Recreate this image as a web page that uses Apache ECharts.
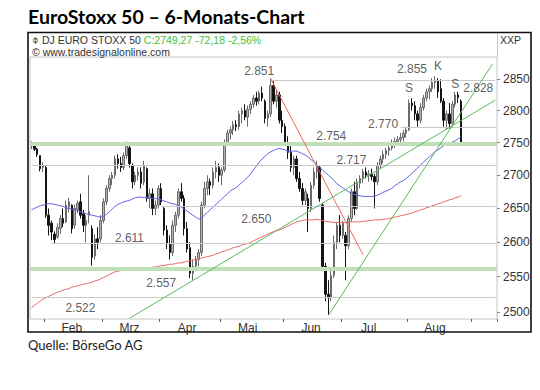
<!DOCTYPE html>
<html>
<head>
<meta charset="utf-8">
<script src="https://cdn.jsdelivr.net/npm/echarts@6/dist/echarts.min.js"></script>
<style>html,body{margin:0;padding:0;background:#fff;}#chart{width:540px;height:390px;}</style>
</head>
<body>
<div id="chart"></div>
<script>
// ---- daily OHLC (EuroStoxx 50) ----
const openP = [2745,2748,2740,2730,2712,2712,2640,2628,2612,2608,
2620,2635,2630,2652,2655,2625,2648,2660,2642,2625,
2640,2620,2580,2605,2605,2632,2660,2680,2695,2700,
2725,2718,2712,2730,2742,2715,2690,2700,2705,2690,
2710,2665,2672,2650,2655,2680,2650,2618,2598,2585,
2625,2640,2675,2665,2620,2592,2555,2565,2575,2585,
2655,2680,2690,2685,2705,2712,2700,2708,2750,2765,
2770,2778,2775,2795,2800,2790,2802,2810,2820,2815,
2828,2815,2788,2795,2840,2815,2825,2785,2775,2750,
2735,2712,2725,2695,2680,2662,2665,2650,2685,2705,
2712,2655,2565,2525,2520,2552,2600,2625,2610,2610,
2595,2635,2675,2650,2688,2695,2705,2700,2702,2698,
2690,2715,2725,2732,2738,2742,2750,2752,2755,2758,
2765,2770,2812,2808,2795,2785,2805,2820,2830,2835,
2845,2848,2835,2815,2785,2795,2780,2810,2825,2815];
const highP = [2752,2750,2742,2730,2720,2715,2650,2632,2616,2628,
2640,2650,2662,2666,2656,2656,2662,2672,2648,2640,
2700,2625,2612,2622,2640,2665,2685,2700,2705,2730,
2732,2728,2735,2752,2748,2718,2705,2712,2712,2722,
2712,2680,2680,2662,2685,2688,2652,2625,2610,2632,
2645,2680,2688,2670,2630,2600,2575,2580,2590,2660,
2690,2700,2695,2712,2722,2718,2712,2755,2770,2775,
2784,2785,2800,2805,2810,2808,2815,2825,2830,2832,
2838,2818,2800,2851,2848,2832,2830,2800,2780,2760,
2745,2730,2730,2705,2688,2680,2672,2690,2712,2722,
2715,2658,2570,2545,2560,2610,2630,2640,2632,2615,
2640,2680,2690,2695,2700,2710,2712,2708,2710,2702,
2720,2730,2738,2742,2745,2755,2758,2760,2765,2770,
2775,2818,2820,2815,2800,2812,2825,2835,2840,2852,
2855,2852,2850,2820,2800,2812,2815,2830,2830,2818];
const lowP = [2740,2737,2728,2706,2705,2636,2610,2603,2598,2605,
2612,2622,2628,2644,2613,2620,2643,2635,2615,2600,
2628,2566,2575,2590,2600,2628,2655,2675,2685,2695,
2710,2705,2708,2725,2712,2680,2685,2692,2680,2685,
2660,2650,2640,2640,2650,2655,2610,2590,2575,2580,
2615,2635,2660,2610,2585,2548,2545,2558,2565,2580,
2650,2670,2670,2680,2695,2690,2685,2705,2745,2755,
2762,2768,2770,2780,2785,2775,2795,2805,2808,2810,
2815,2780,2775,2790,2810,2805,2780,2765,2745,2725,
2705,2700,2690,2675,2655,2655,2615,2645,2680,2695,
2660,2558,2515,2496,2515,2548,2590,2600,2605,2545,
2590,2630,2640,2648,2680,2688,2695,2690,2692,2650,
2685,2710,2718,2725,2730,2738,2742,2745,2748,2752,
2758,2768,2800,2785,2775,2780,2800,2815,2818,2830,
2835,2820,2812,2775,2770,2772,2775,2805,2812,2748];
const closeP = [2748,2740,2732,2710,2715,2640,2625,2615,2604,2622,
2635,2628,2655,2660,2620,2650,2658,2640,2625,2632,
2645,2578,2605,2600,2632,2660,2680,2695,2700,2725,
2718,2712,2730,2745,2718,2690,2700,2705,2688,2715,
2665,2672,2650,2655,2680,2660,2618,2598,2585,2625,
2640,2675,2665,2620,2590,2555,2565,2575,2585,2655,
2680,2690,2685,2705,2712,2700,2708,2750,2765,2770,
2778,2775,2795,2800,2790,2802,2810,2820,2815,2828,
2820,2788,2795,2840,2815,2825,2785,2775,2750,2735,
2712,2725,2695,2680,2662,2675,2650,2685,2705,2715,
2665,2565,2525,2520,2552,2600,2625,2610,2628,2595,
2635,2675,2650,2688,2695,2705,2700,2702,2698,2690,
2715,2725,2732,2738,2742,2750,2752,2755,2758,2765,
2770,2812,2808,2795,2785,2805,2820,2830,2835,2845,
2848,2830,2815,2785,2795,2780,2810,2825,2821,2749];
// moving averages as drawn (blue = short MA, red = 200-day MA)
const maBlue = [2648,2650,2652,2654,2655,2656,2657,2657,2656,2655,
2654,2653,2651,2650,2649,2648,2647,2645,2644,2642,
2641,2640,2639,2638,2637,2638,2641,2645,2649,2653,
2656,2658,2660,2661,2662,2664,2666,2667,2667,2666,
2666,2666,2665,2665,2664,2663,2661,2660,2658,2657,
2656,2654,2652,2649,2646,2643,2640,2637,2634,2636,
2640,2644,2648,2652,2656,2660,2664,2668,2672,2676,
2679,2681,2685,2689,2693,2697,2702,2708,2714,2720,
2725,2729,2733,2736,2738,2740,2741,2740,2739,2737,
2737,2737,2737,2735,2733,2731,2728,2724,2720,2716,
2712,2708,2704,2700,2696,2692,2687,2684,2681,2678,
2675,2673,2671,2670,2669,2668,2668,2668,2668,2668,
2670,2672,2674,2676,2678,2680,2684,2687,2690,2692,
2695,2699,2703,2707,2711,2716,2720,2724,2728,2732,
2736,2739,2742,2745,2747,2749,2751,2753,2756,2759];
const maRed = [2506,2509,2512,2515,2518,2520,2522,2524,2526,2528,
2529,2531,2532,2533,2535,2536,2537,2538,2539,2540,
2541,2542,2544,2545,2547,2549,2551,2553,2555,2557,
2558,2559,2559,2560,2560,2560,2561,2561,2562,2562,
2563,2563,2564,2564,2565,2566,2566,2567,2568,2568,
2569,2570,2570,2571,2572,2573,2574,2575,2576,2577,
2578,2579,2580,2581,2583,2584,2586,2587,2589,2590,
2592,2593,2594,2596,2597,2598,2600,2602,2604,2606,
2608,2610,2612,2614,2616,2617,2618,2620,2622,2624,
2626,2628,2630,2631,2632,2633,2633,2633,2633,2634,
2633,2632,2631,2630,2630,2629,2629,2629,2629,2629,
2630,2630,2630,2630,2630,2631,2631,2632,2632,2633,
2633,2633,2634,2634,2635,2636,2637,2638,2639,2640,
2641,2642,2643,2645,2646,2648,2649,2651,2652,2654,
2655,2657,2658,2660,2661,2663,2664,2666,2667,2669];
const yTicks = [2500,2550,2600,2650,2700,2750,2800,2850];
const monthNames = ['Jan','Feb','Mrz','Apr','Mai','Jun','Jul','Aug','Sep'];
const holidays = ['2013-03-29','2013-04-01','2013-05-01'];
// support / resistance levels as drawn: [level, first day index]
const grayLevels = [[2849,83],[2774,128],[2716,0],[2654,45],[2598,7],[2521,0]];
const greenLevels = [2749,2561];
// trend lines: [day index, price] end points
const trendRed = [[83,2851],[115,2582]];
const trendGreenA = [[34,2491],[161,2817]];
const trendGreenB = [[103,2495],[160,2875]];
// text notes: [text, day index, price]
const notes = [['2.851',79,2863],['2.855',132,2866],['K',141,2871],['S',131,2836],['S',147,2842],
['2.828',155,2836],['2.770',122,2779],['2.754',104,2760],['2.717',111,2724],['2.650',78,2634],
['2.611',34,2606],['2.557',45,2541],['2.522',17,2505]];

// ---- categories: trading days ----
const nBars = openP.length;
const days = [];
(function(){
  const d = new Date(Date.UTC(2013,0,25));
  while (days.length < nBars + 12) {
    const wd = d.getUTCDay();
    const s = d.toISOString().slice(0,10);
    if (wd !== 0 && wd !== 6 && holidays.indexOf(s) < 0) days.push(s);
    d.setUTCDate(d.getUTCDate()+1);
  }
})();
const monthStart = {};
days.forEach((s,i)=>{ const m = s.slice(0,7); if (!(m in monthStart)) monthStart[m] = i; });
const labelIdx = {};
Object.keys(monthStart).forEach(m=>{ if (monthStart[m] > 0) labelIdx[monthStart[m]+9] = true; });

const candles = days.map((s,i)=> i < nBars ? [openP[i], closeP[i], lowP[i], highP[i]] : '-');
const lastIdx = days.length - 1;

const markLines = [];
grayLevels.forEach(l=>{
  markLines.push([{coord:[l[1], l[0]]},{coord:[lastIdx, l[0]]}]);
});
const greenLines = greenLevels.map(v=>({yAxis:v}));

const FONT = 'Liberation Sans, Arial, sans-serif';
const chart = echarts.init(document.getElementById('chart'), null, {renderer:'svg'});
chart.setOption({
  animation:false,
  backgroundColor:'#fff',
  grid:{left:30, top:57, width:467, height:262, show:true, borderColor:'#c4c4c4', borderWidth:1, backgroundColor:'transparent'},
  xAxis:{
    type:'category', data:days, boundaryGap:true,
    axisLine:{show:false},
    axisTick:{show:true, length:3, lineStyle:{color:'#666'},
      interval:(i)=> i>0 && days[i].slice(5,7)!==days[i-1].slice(5,7)},
    axisLabel:{color:'#333', fontSize:12, fontFamily:FONT, margin:3,
      interval:(i)=> !!labelIdx[i],
      formatter:(v)=> monthNames[parseInt(v.slice(5,7),10)-1]},
    splitLine:{show:false}
  },
  yAxis:{
    type:'log', logBase:10, position:'right', min:2490, max:2886,
    axisLine:{show:false},
    axisTick:{show:true, customValues:yTicks, length:3, lineStyle:{color:'#888'}},
    axisLabel:{customValues:yTicks, color:'#333', fontSize:12, fontFamily:FONT, margin:6,
      formatter:(v)=> String(Math.round(v))},
    splitLine:{show:false}
  },
  graphic:[
    {type:'text', left:28, top:6, style:{text:'EuroStoxx 50 – 6-Monats-Chart', font:'bold 19.5px Lato, "Open Sans", sans-serif', fill:'#000'}},
    {type:'rect', shape:{x:28, y:32.5, width:503, height:299.5}, style:{fill:'none', stroke:'#111', lineWidth:1.6}, z:100},
    {type:'line', shape:{x1:497.5, y1:33, x2:497.5, y2:57}, style:{stroke:'#c4c4c4', lineWidth:1}},
    {type:'text', left:32, top:34, style:{text:'{a|⌽ DJ EURO STOXX 50 }{b|C:2749,27 -72,18 -2,56%}',
      rich:{a:{font:'10.5px '+FONT, fill:'#333'}, b:{font:'10.5px '+FONT, fill:'#3cc23c'}}}},
    {type:'text', left:32, top:46, style:{text:'© www.tradesignalonline.com', font:'10.5px '+FONT, fill:'#333'}},
    {type:'text', left:500, top:34, style:{text:'XXP', font:'10.5px '+FONT, fill:'#333'}},
    {type:'text', left:28, top:338, style:{text:'Quelle: BörseGo AG', font:'13px Lato, "Open Sans", sans-serif', fill:'#222'}}
  ],
  series:[
    {type:'line', name:'levels', data:[], silent:true, z:1,
      markLine:{silent:true, symbol:['none','none'], label:{show:false}, animation:false,
        lineStyle:{color:'#c8c8c8', width:1, type:'solid'}, data:markLines}},
    {type:'line', name:'bands', data:[], silent:true, z:1,
      markLine:{silent:true, symbol:['none','none'], label:{show:false}, animation:false,
        lineStyle:{color:'#bfe0b8', width:4, type:'solid', opacity:1}, data:greenLines}},
    {type:'candlestick', name:'EuroStoxx 50', data:candles, barWidth:2, z:3,
      itemStyle:{color:'#b4b4b4', color0:'#151515', borderColor:'#6a6a6a', borderColor0:'#151515', borderWidth:1}},
    {type:'line', name:'MA', data:maBlue, symbol:'none', z:4, lineStyle:{color:'#6262e6', width:1}},
    {type:'line', name:'MA200', data:maRed, symbol:'none', z:4, lineStyle:{color:'#e86a6a', width:1}},
    {type:'line', name:'trendRed', data:trendRed, symbol:'none', z:5, lineStyle:{color:'#ec6a5e', width:1}},
    {type:'line', name:'trendGreenA', data:trendGreenA, symbol:'none', z:5, lineStyle:{color:'#5cb85c', width:1}},
    {type:'line', name:'trendGreenB', data:trendGreenB, symbol:'none', z:5, lineStyle:{color:'#5cb85c', width:1}},
    {type:'scatter', name:'notes', symbolSize:0, z:6, silent:true,
      data:notes.map(n=>({name:n[0], value:[n[1], n[2]]})),
      label:{show:true, position:'inside', formatter:(p)=>p.name, color:'#333', fontSize:12, fontFamily:FONT}}
  ]
});
</script>
</body>
</html>
